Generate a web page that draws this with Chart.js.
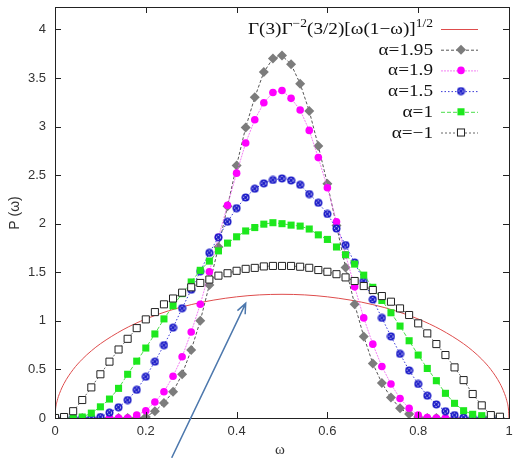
<!DOCTYPE html>
<html>
<head>
<meta charset="utf-8">
<script src="https://cdn.jsdelivr.net/npm/chart.js@4.4.1/dist/chart.umd.min.js"></script>
<style>
html, body { margin: 0; padding: 0; background: #fff; }
#contenedor { width: 515px; height: 458px; }
</style>
</head>
<body>
<div id="contenedor"><canvas id="graficaP"></canvas></div>
<script>
// Valores
const omega = [0, 0.02, 0.04, 0.06, 0.08, 0.1, 0.12, 0.14, 0.16, 0.18,
    0.2, 0.22, 0.24, 0.26, 0.28, 0.3, 0.32, 0.34, 0.36, 0.38,
    0.4, 0.42, 0.44, 0.46, 0.48, 0.5, 0.52, 0.54, 0.56, 0.58,
    0.6, 0.62, 0.64, 0.66, 0.68, 0.7, 0.72, 0.74, 0.76, 0.78,
    0.8, 0.82, 0.84, 0.86, 0.88, 0.9, 0.92, 0.94, 0.96, 0.98, 1];

const pAlfa195 = [0, 0, 0, 0, 0, 0, 0, 0, 0, 0,
    0.01, 0.07, 0.155, 0.27, 0.45, 0.70, 1.00, 1.37, 1.76, 2.18,
    2.60, 2.99, 3.30, 3.56, 3.70, 3.73, 3.64, 3.44, 3.16, 2.80,
    2.41, 1.98, 1.55, 1.17, 0.84, 0.56, 0.36, 0.21, 0.10, 0.04,
    0.01, 0, 0, 0, 0, 0, 0, 0, 0, 0, null];

const pAlfa19 = [0, 0, 0, 0, 0, 0, 0, 0, 0, 0.03,
    0.075, 0.165, 0.27, 0.43, 0.63, 0.885, 1.17, 1.505, 1.86, 2.19,
    2.52, 2.83, 3.07, 3.245, 3.35, 3.37, 3.29, 3.17, 2.96, 2.68,
    2.37, 2.02, 1.68, 1.35, 1.03, 0.76, 0.53, 0.35, 0.20, 0.10,
    0.03, 0.005, 0, 0, 0, 0, 0, 0, 0, 0, null];

const pAlfa15 = [0, 0, 0, 0, 0, 0.01, 0.055, 0.11, 0.185, 0.29,
    0.425, 0.58, 0.75, 0.93, 1.13, 1.32, 1.51, 1.70, 1.86, 2.02,
    2.16, 2.27, 2.36, 2.415, 2.45, 2.466, 2.445, 2.40, 2.305, 2.215,
    2.10, 1.95, 1.78, 1.60, 1.41, 1.22, 1.03, 0.84, 0.66, 0.49,
    0.35, 0.23, 0.14, 0.07, 0.03, 0.005, 0, 0, 0, 0, null];

const pAlfa1 = [0, 0, 0, 0.01, 0.05, 0.115, 0.195, 0.305, 0.45, 0.585,
    0.72, 0.865, 1.02, 1.155, 1.28, 1.40, 1.52, 1.615, 1.72, 1.80,
    1.865, 1.925, 1.96, 1.995, 2.01, 2.00, 1.985, 1.975, 1.945, 1.885,
    1.838, 1.76, 1.68, 1.584, 1.47, 1.345, 1.21, 1.083, 0.946, 0.795,
    0.648, 0.51, 0.384, 0.254, 0.151, 0.075, 0.038, 0.024, 0.01, 0, null];

const pAlfaMenos1 = [0, 0.01, 0.07, 0.185, 0.315, 0.45, 0.58, 0.705, 0.815, 0.925,
    1.015, 1.09, 1.17, 1.23, 1.29, 1.345, 1.39, 1.425, 1.465, 1.49,
    1.515, 1.535, 1.545, 1.56, 1.565, 1.565, 1.565, 1.557, 1.546, 1.523,
    1.505, 1.48, 1.447, 1.41, 1.358, 1.317, 1.255, 1.197, 1.128, 1.06,
    0.974, 0.871, 0.761, 0.648, 0.521, 0.39, 0.247, 0.13, 0.03, 0.013, null];

// Curva roja
const omegaRoja = [0, 0.001, 0.005, 0.01, 0.02, 0.04, 0.06, 0.08, 0.1, 0.15, 0.2, 0.25, 0.3, 0.35, 0.4, 0.45,
    0.5, 0.55, 0.6, 0.65, 0.7, 0.75, 0.8, 0.85, 0.9, 0.92, 0.94, 0.96, 0.98, 0.99, 0.995, 0.999, 1];
const pRoja = [0, 0.08, 0.18, 0.253, 0.356, 0.499, 0.605, 0.691, 0.764, 0.909, 1.019, 1.103, 1.167, 1.214, 1.247, 1.267,
    1.273, 1.267, 1.247, 1.214, 1.167, 1.103, 1.019, 0.909, 0.764, 0.691, 0.605, 0.499, 0.356, 0.253, 0.18, 0.08, 0];

const ticksX = [0, 0.2, 0.4, 0.6, 0.8, 1];
const ticksY = [0, 0.5, 1, 1.5, 2, 2.5, 3, 3.5, 4];
const etiquetasLeyenda = ['α=1.95', 'α=1.9', 'α=1.5', 'α=1', 'α=−1'];

// Flecha de anotación en coordenadas de datos
const flechaDesde = [0.257, -0.41];
const flechaHasta = [0.42, 1.18];

function pares(xs, ys) {
    return xs.map((x, i) => ({ x: x, y: ys[i] })).filter(p => p.y !== null);
}

// Marcador azul con motas blancas
function crearMarcadorAzul() {
    const c = document.createElement('canvas');
    c.width = 9;
    c.height = 9;
    const g = c.getContext('2d');
    g.fillStyle = '#1c1cc8';
    g.beginPath();
    g.arc(4.5, 4.5, 4, 0, Math.PI * 2);
    g.fill();
    g.strokeStyle = '#ffffff';
    g.lineWidth = 0.9;
    g.setLineDash([1.3, 1.3]);
    g.beginPath();
    g.arc(4.5, 4.5, 2, 0, Math.PI * 2);
    g.stroke();
    return c;
}
const marcadorAzul = crearMarcadorAzul();

const serieMenos1 = {
    label: etiquetasLeyenda[4], data: pares(omega, pAlfaMenos1),
    borderColor: '#666', borderWidth: 1, borderDash: [2, 2],
    pointStyle: 'rect', pointRadius: 5, pointBackgroundColor: '#fff',
    pointBorderColor: '#222', pointBorderWidth: 1
};
const serie1 = {
    label: etiquetasLeyenda[3], data: pares(omega, pAlfa1),
    borderColor: '#4ade4a', borderWidth: 1, borderDash: [4, 2],
    pointStyle: 'rect', pointRadius: 5, pointBackgroundColor: '#1de81d',
    pointBorderColor: '#1de81d', pointBorderWidth: 0
};
const serie15 = {
    label: etiquetasLeyenda[2], data: pares(omega, pAlfa15),
    borderColor: '#3a3ad8', borderWidth: 1, borderDash: [1.5, 2],
    pointStyle: marcadorAzul, pointRadius: 4
};
const serie19 = {
    label: etiquetasLeyenda[1], data: pares(omega, pAlfa19),
    borderColor: '#f060f0', borderWidth: 0.8, borderDash: [2, 1],
    pointStyle: 'circle', pointRadius: 3.8, pointBackgroundColor: '#ff00ff',
    pointBorderColor: '#ff00ff', pointBorderWidth: 0
};
const serie195 = {
    label: etiquetasLeyenda[0], data: pares(omega, pAlfa195),
    borderColor: '#555', borderWidth: 1, borderDash: [3, 2],
    pointStyle: 'rectRot', pointRadius: 5, pointBackgroundColor: '#7c7c7c',
    pointBorderColor: '#7c7c7c', pointBorderWidth: 0
};
const serieRoja = {
    label: 'formula', data: pares(omegaRoja, pRoja),
    borderColor: '#de4c4c', borderWidth: 1, pointRadius: 0,
    cubicInterpolationMode: 'monotone'
};

function dibujarMarcador(ctx, ds, x, y) {
    ctx.save();
    ctx.setLineDash([]);
    const r = ds.pointRadius;
    if (ds.pointStyle === marcadorAzul) {
        ctx.drawImage(marcadorAzul, x - 4.5, y - 4.5);
    } else if (ds.pointStyle === 'circle') {
        ctx.fillStyle = ds.pointBackgroundColor;
        ctx.beginPath();
        ctx.arc(x, y, r, 0, Math.PI * 2);
        ctx.fill();
    } else if (ds.pointStyle === 'rectRot') {
        ctx.fillStyle = ds.pointBackgroundColor;
        ctx.beginPath();
        ctx.moveTo(x, y - r); ctx.lineTo(x + r, y); ctx.lineTo(x, y + r); ctx.lineTo(x - r, y);
        ctx.closePath();
        ctx.fill();
    } else if (ds.pointStyle === 'rect') {
        const s = r * Math.SQRT1_2;
        ctx.fillStyle = ds.pointBackgroundColor;
        ctx.fillRect(x - s, y - s, 2 * s, 2 * s);
        if (ds.pointBorderWidth > 0) {
            ctx.strokeStyle = ds.pointBorderColor;
            ctx.lineWidth = ds.pointBorderWidth;
            ctx.strokeRect(x - s, y - s, 2 * s, 2 * s);
        }
    }
    ctx.restore();
}

// Texto de leyenda algo ensanchado, como en la figura
function textoAncho(ctx, texto, x, y, escala) {
    ctx.save();
    ctx.translate(x, y);
    ctx.scale(escala, 1);
    ctx.fillText(texto, 0, 0);
    ctx.restore();
}

const pluginMarco = {
    id: 'marco',
    afterDraw(chart) {
        const ctx = chart.ctx;
        const area = chart.chartArea;
        const ex = chart.scales.x;
        const ey = chart.scales.y;
        ctx.save();
        // marco y marcas hacia dentro
        ctx.strokeStyle = '#222';
        ctx.lineWidth = 1;
        ctx.strokeRect(area.left + 0.5, area.top + 0.5, area.right - area.left, area.bottom - area.top);
        ctx.beginPath();
        ticksX.forEach(v => {
            const px = Math.round(ex.getPixelForValue(v)) + 0.5;
            ctx.moveTo(px, area.bottom); ctx.lineTo(px, area.bottom - 6);
            ctx.moveTo(px, area.top); ctx.lineTo(px, area.top + 6);
        });
        ticksY.forEach(v => {
            const py = Math.round(ey.getPixelForValue(v)) + 0.5;
            ctx.moveTo(area.left, py); ctx.lineTo(area.left + 6, py);
            ctx.moveTo(area.right, py); ctx.lineTo(area.right - 6, py);
        });
        ctx.stroke();

        // títulos de ejes
        ctx.fillStyle = '#333';
        ctx.font = '15px "Liberation Serif", serif';
        ctx.textAlign = 'center';
        ctx.textBaseline = 'middle';
        ctx.fillText('ω', 280, 450);
        ctx.save();
        ctx.translate(15, 213);
        ctx.rotate(-Math.PI / 2);
        ctx.font = '14px "Liberation Sans", Arial, sans-serif';
        ctx.fillText('P (ω)', 0, 0);
        ctx.restore();

        // leyenda
        const xTexto = 433;
        const xLinea0 = 441;
        const xLinea1 = 478;
        const xMarca = 461;
        const y0 = 29;
        const dy = 20.7;
        const escala = 1.13;
        ctx.fillStyle = '#111';
        ctx.textBaseline = 'alphabetic';
        ctx.textAlign = 'left';
        const trozos = [['Γ(3)Γ', false], ['−2', true], ['(3/2)[ω(1−ω)]', false], ['1/2', true]];
        const fuenteNormal = '17px "Liberation Serif", serif';
        const fuenteSup = '12px "Liberation Serif", serif';
        let ancho = 0;
        trozos.forEach(t => {
            ctx.font = t[1] ? fuenteSup : fuenteNormal;
            ancho += ctx.measureText(t[0]).width * escala;
        });
        let xp = xTexto - ancho;
        trozos.forEach(t => {
            ctx.font = t[1] ? fuenteSup : fuenteNormal;
            textoAncho(ctx, t[0], xp, t[1] ? y0 - 2 : y0 + 5, escala);
            xp += ctx.measureText(t[0]).width * escala;
        });
        const seriesLeyenda = [serieRoja, serie195, serie19, serie15, serie1, serieMenos1];
        seriesLeyenda.forEach((ds, i) => {
            const y = y0 + i * dy;
            if (i > 0) {
                ctx.font = fuenteNormal;
                ctx.textAlign = 'left';
                const w = ctx.measureText(etiquetasLeyenda[i - 1]).width * escala;
                textoAncho(ctx, etiquetasLeyenda[i - 1], xTexto - w, y + 5, escala);
            }
            ctx.save();
            ctx.strokeStyle = ds.borderColor;
            ctx.lineWidth = ds.borderWidth;
            ctx.setLineDash(ds.borderDash || []);
            ctx.beginPath();
            ctx.moveTo(xLinea0, y + 0.5);
            ctx.lineTo(xLinea1, y + 0.5);
            ctx.stroke();
            ctx.restore();
            if (i > 0) {
                dibujarMarcador(ctx, ds, xMarca, y);
            }
        });

        // flecha
        const fx0 = ex.getPixelForValue(flechaDesde[0]);
        const fy0 = ey.getPixelForValue(flechaDesde[1]);
        const fx1 = ex.getPixelForValue(flechaHasta[0]);
        const fy1 = ey.getPixelForValue(flechaHasta[1]);
        const ang = Math.atan2(fy1 - fy0, fx1 - fx0);
        ctx.strokeStyle = '#4d78ad';
        ctx.lineWidth = 1.5;
        ctx.setLineDash([]);
        ctx.beginPath();
        ctx.moveTo(fx0, fy0);
        ctx.lineTo(fx1, fy1);
        ctx.moveTo(fx1 - 11 * Math.cos(ang - 0.4), fy1 - 11 * Math.sin(ang - 0.4));
        ctx.lineTo(fx1, fy1);
        ctx.lineTo(fx1 - 11 * Math.cos(ang + 0.4), fy1 - 11 * Math.sin(ang + 0.4));
        ctx.stroke();
        ctx.restore();
    }
};

const fuenteTicks = { family: '"Liberation Sans", Arial, sans-serif', size: 13 };

new Chart(document.getElementById('graficaP'), {
    type: 'line',
    data: {
        datasets: [serieMenos1, serie1, serie15, serie19, serie195, serieRoja]
    },
    options: {
        responsive: true,
        maintainAspectRatio: false,
        animation: false,
        devicePixelRatio: 1,
        layout: { padding: { top: 7, right: 4, left: 0, bottom: 0 } },
        plugins: { legend: { display: false }, tooltip: { enabled: false } },
        elements: { line: { tension: 0 } },
        scales: {
            x: {
                type: 'linear', min: 0, max: 1,
                afterBuildTicks: s => { s.ticks = ticksX.map(v => ({ value: v })); },
                afterFit: s => { s.height = 40; s.paddingLeft = 0; s.paddingRight = 0; },
                grid: { display: false, drawTicks: false },
                border: { display: false },
                ticks: { font: fuenteTicks, color: '#333', padding: 6, maxRotation: 0, autoSkip: false,
                    callback: v => String(v) }
            },
            y: {
                type: 'linear', min: 0, max: 4.23,
                afterBuildTicks: s => { s.ticks = ticksY.map(v => ({ value: v })); },
                afterFit: s => { s.width = 55; s.paddingTop = 0; s.paddingBottom = 0; },
                grid: { display: false, drawTicks: false },
                border: { display: false },
                ticks: { font: fuenteTicks, color: '#333', padding: 9, autoSkip: false,
                    callback: v => String(v) }
            }
        }
    },
    plugins: [pluginMarco]
});
</script>
</body>
</html>
